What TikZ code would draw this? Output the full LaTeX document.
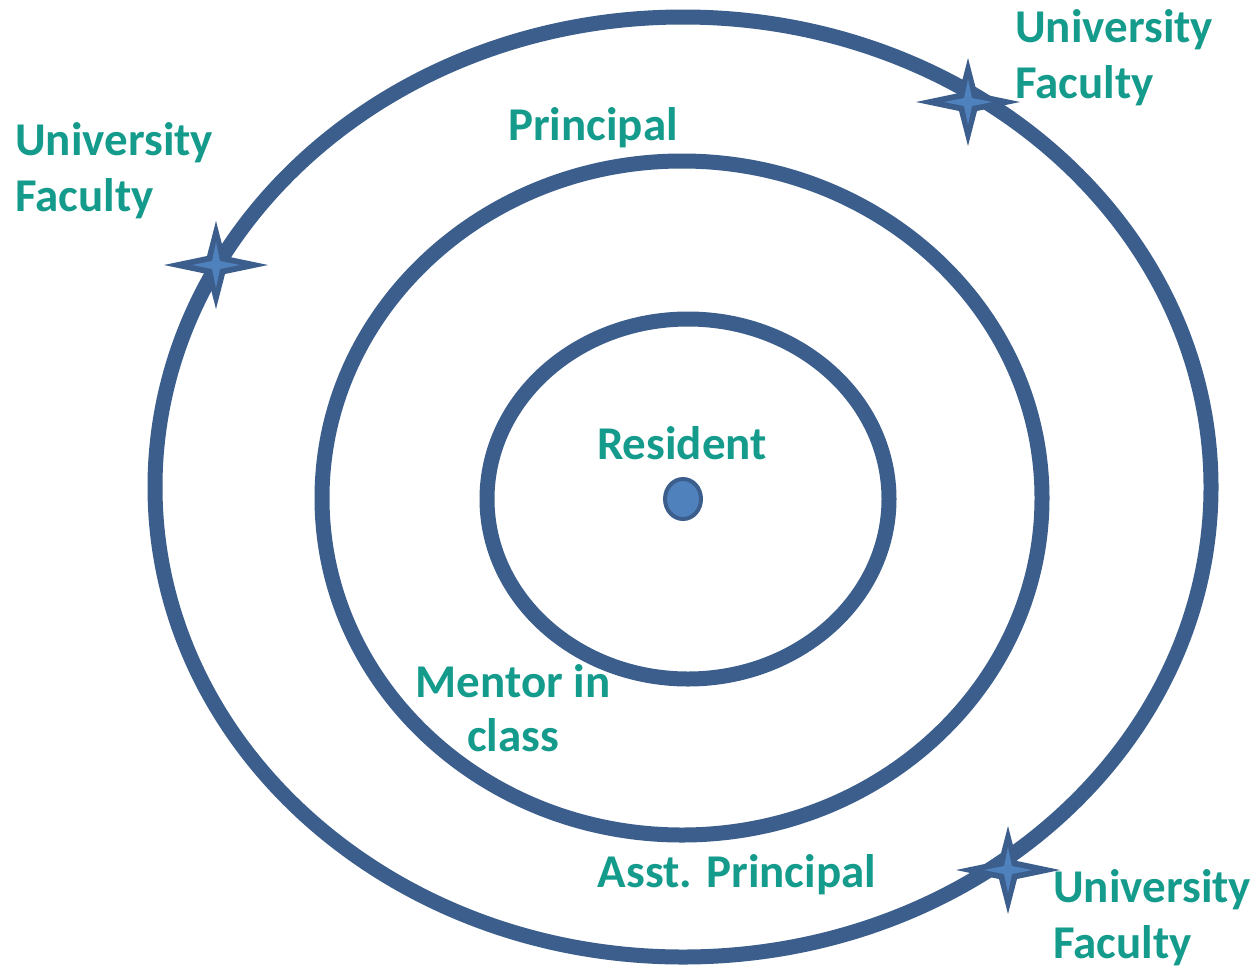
\documentclass[tikz,border=0pt]{standalone}
\usepackage{fontspec}
\setmainfont{Carlito}
\definecolor{ringc}{RGB}{59,94,141}
\definecolor{ringlight}{RGB}{79,129,189}
\definecolor{labelc}{RGB}{20,155,140}
\tikzset{
  ringline/.style={draw=ringc,line width=15pt},
  lbl/.style={text=labelc,font=\fontsize{47}{56}\selectfont\bfseries,inner sep=0pt},
  starfour/.pic={
    \fill[ringc] (-52,0) -- (-9,-9) -- (0,-44) -- (9,-9) -- (52,0) -- (9,9) -- (0,44) -- (-9,9) -- cycle;
    \fill[ringlight] (-24,0) -- (-4,-4) -- (0,-23) -- (4,-4) -- (24,0) -- (4,4) -- (0,23) -- (-4,4) -- cycle;
  }
}
\begin{document}
\begin{tikzpicture}[x=1pt,y=-1pt]
\useasboundingbox (0,0) rectangle (1260,970);
\fill[white] (0,0) rectangle (1260,970);
% rings
\draw[ringline] (683,487) ellipse [x radius=528, y radius=470];
\draw[ringline] (682,498) ellipse [x radius=360, y radius=337];
\draw[ringline] (688,499) ellipse [x radius=201, y radius=180];
% resident dot
\draw[draw=ringc,fill=ringlight,line width=4pt] (683,499) ellipse [x radius=18, y radius=20];
% stars
\pic at (216,265) {starfour};
\pic at (968,102) {starfour};
\pic at (1008,870) {starfour};
% labels
\node[lbl,anchor=base west] (uf1a) at (1015,42) {University};
\node[lbl,anchor=base west] (uf1b) at (1015,98) {Faculty};
\node[lbl,anchor=base west] (uf2a) at (15,155) {University};
\node[lbl,anchor=base west] (uf2b) at (15,211) {Faculty};
\node[lbl,anchor=base west] (uf3a) at (1053,902) {University};
\node[lbl,anchor=base west] (uf3b) at (1053,958) {Faculty};
\node[lbl,anchor=base] (principal) at (593,140) {Principal};
\node[lbl,anchor=base] (resident) at (682,459) {Resident};
\node[lbl,anchor=base] (mentora) at (513,697) {Mentor in};
\node[lbl,anchor=base] (mentorb) at (513,751) {class};
\node[lbl,anchor=base] (asst) at (737,887) {Asst. Principal};
\end{tikzpicture}
\end{document}
